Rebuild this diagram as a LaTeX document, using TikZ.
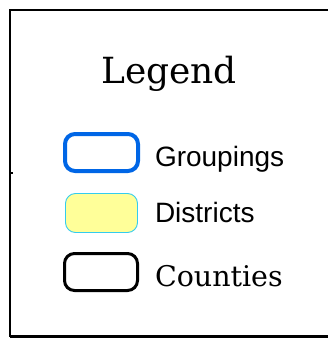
\documentclass[tikz,border=0pt]{standalone}
\usepackage{fontspec}
\newfontfamily\legserif{DejaVu Serif}
\newfontfamily\legsans{Liberation Sans}
\definecolor{grpblue}{RGB}{0,102,230}
\definecolor{distedge}{RGB}{51,204,238}
\definecolor{distfill}{RGB}{255,255,153}
\begin{document}
\begin{tikzpicture}[x=1pt,y=-1pt,
  swatch/.style={rounded corners=10pt},
  lab/.style={anchor=base west,inner sep=0pt,outer sep=0pt},
  sanslab/.style={lab,font=\legsans\fontsize{28}{30}\selectfont},
  seriflab/.style={lab,font=\legserif\fontsize{28.5}{32}\selectfont}]
\useasboundingbox (0,0) rectangle (328,339);
% frame
\draw[line width=2.8pt] (10,336.5) -- (10,10) -- (340,10);
\draw[line width=3pt] (10,336.5) -- (340,336.5);
\draw[line width=2.5pt] (10,173) -- (12.6,173);
% title
\node[anchor=base,inner sep=0pt,font=\legserif\fontsize{36}{40}\selectfont] (title) at (169,84) {Legend};
% swatches
\draw[swatch,grpblue,line width=4pt] (65,134) rectangle (138,171);
\draw[swatch,draw=distedge,fill=distfill,line width=0.9pt] (65.5,193.5) rectangle (137.5,232.5);
\draw[swatch,black,line width=3pt] (64.5,253.5) rectangle (137.5,290.5);
% labels
\node[sanslab] (grp) at (155,166) {Groupings};
\node[sanslab] (dist) at (155,222) {Districts};
\node[seriflab] (cty) at (155,286) {Counties};
\end{tikzpicture}
\end{document}
